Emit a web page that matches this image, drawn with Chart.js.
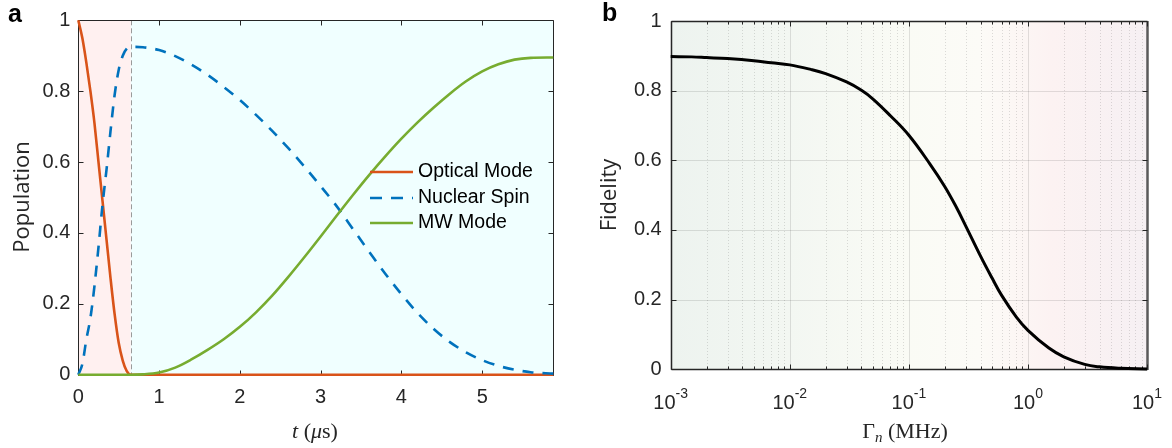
<!DOCTYPE html>
<html><head><meta charset="utf-8">
<script src="https://cdn.jsdelivr.net/npm/chart.js@4.4.1/dist/chart.umd.min.js"></script>
<style>
html,body{margin:0;padding:0;background:#fff}
body{width:1172px;height:448px;position:relative;overflow:hidden}
canvas{position:absolute;top:0}
#cA{left:0}
#cB{left:580px}
.txt{position:absolute;white-space:nowrap;color:#262626;line-height:1}
.panel{font:bold 25px "Liberation Sans",Arial,sans-serif;color:#000}
.ytitle{font:22px "Open Sans",sans-serif;transform:translate(-50%,-50%) rotate(-90deg)}
.xtitle{font:22px "Liberation Serif","DejaVu Serif",serif;transform:translate(-50%,-50%)}
.xtitle sub{font-size:15px;vertical-align:-4px}
.lrow{position:absolute;height:26px;line-height:26px;font:19.5px "Liberation Sans",Arial,sans-serif;color:#000;white-space:nowrap}
.lrow svg{position:absolute;left:0;top:0}
.lrow span{position:absolute;left:48px;top:0}
</style></head>
<body>
<canvas id="cA" width="580" height="448"></canvas>
<canvas id="cB" width="592" height="448"></canvas>
<div class="txt panel" style="left:8px;top:-1px">a</div>
<div class="txt panel" style="left:602px;top:-2px">b</div>
<div class="txt ytitle" style="left:20px;top:197px">Population</div>
<div class="txt ytitle" style="left:607px;top:195px">Fidelity</div>
<div class="txt xtitle" style="left:315px;top:431px"><i>t</i> (<i>μ</i>s)</div>
<div class="txt xtitle" style="left:905px;top:432px">Γ<sub><i>n</i></sub> (MHz)</div>
<div id="legend"></div>
<script>
// ---------------- data ----------------
const timeUs = [0,0.05,0.1,0.15,0.2,0.25,0.3,0.35,0.4,0.45,0.5,0.55,0.6,0.65,0.8,1.0,1.2,1.4,1.6,1.8,2.0,2.2,2.4,2.6,2.8,3.0,3.2,3.4,3.6,3.8,4.0,4.2,4.4,4.6,4.8,5.0,5.2,5.4,5.6,5.88];
const opticalMode = [1,0.95,0.88,0.80,0.71,0.60,0.49,0.38,0.27,0.17,0.09,0.04,0.01,0,
  0,0,0,0,0,0,0,0,0,0,0,0,0,0,0,0,0,0,0,0,0,0,0,0,0,0];
const nuclearSpin = [0,0.03,0.10,0.16,0.25,0.36,0.48,0.58,0.69,0.79,0.86,0.90,0.92,0.925,
  0.924,0.916,0.899,0.875,0.846,0.812,0.775,0.733,0.688,0.639,0.587,0.532,0.475,0.411,0.347,0.285,0.227,0.174,0.129,0.092,0.063,0.041,0.025,0.014,0.007,0.003];
const mwMode = [0,0,0,0,0,0,0,0,0,0,0,0,0,0,
  0.001,0.006,0.020,0.043,0.070,0.100,0.135,0.176,0.223,0.276,0.332,0.390,0.449,0.507,0.563,0.616,0.666,0.712,0.754,0.793,0.828,0.856,0.876,0.889,0.894,0.895];
const seriesNames = ['Optical Mode','Nuclear Spin','MW Mode'];
const pumpEndUs = 0.65;
const xTicksA = [0,1,2,3,4,5];
const xMaxA = 5.88;
const yTicks = [0,0.2,0.4,0.6,0.8,1];

const gammaMHz = [0.001,0.0015,0.002,0.003,0.005,0.007,0.01,0.015,0.02,0.03,0.04,0.05,0.07,0.1,0.15,0.2,0.25,0.3,0.4,0.5,0.6,0.8,1,1.5,2,3,4,6,10];
const fidelity = [0.898,0.897,0.895,0.892,0.886,0.880,0.874,0.861,0.849,0.825,0.801,0.776,0.728,0.672,0.590,0.525,0.466,0.412,0.325,0.262,0.213,0.150,0.112,0.061,0.036,0.014,0.007,0.003,0.001];
const xDecadesB = [-3,-2,-1,0,1];

// ---------------- styles ----------------
const COLORS = ['#D95319','#0072BD','#77AC30'];
const FONT = '"Liberation Sans", Arial, sans-serif';
const TXT = '#262626';
const pts = (xs, ys) => xs.map((x, i) => ({x, y: ys[i]}));

// legend (HTML text)
(function(){
  const lg = document.getElementById('legend');
  const rowsY = [172, 197.5, 223];
  seriesNames.forEach((name, i) => {
    const r = document.createElement('div');
    r.className = 'lrow';
    r.style.left = '370px';
    r.style.top = (rowsY[i] - 13) + 'px';
    const dash = i === 1 ? ' stroke-dasharray="12 9"' : '';
    r.innerHTML = '<svg width="46" height="26"><line x1="0" y1="13" x2="43" y2="13" stroke="' + COLORS[i] + '" stroke-width="2.6"' + dash + '/></svg><span>' + name + '</span>';
    lg.appendChild(r);
  });
})();

function crisp(v){ return Math.round(v) + 0.5; }

// ---------------- panel a ----------------
const panelAPlugin = {
  id: 'panelA',
  beforeDraw(chart){
    const {ctx, chartArea: a, scales: {x}} = chart;
    const xp = x.getPixelForValue(pumpEndUs);
    ctx.save();
    ctx.fillStyle = '#fff0f0';
    ctx.fillRect(a.left, a.top, xp - a.left, a.bottom - a.top);
    ctx.fillStyle = '#f0ffff';
    ctx.fillRect(xp, a.top, a.right - xp, a.bottom - a.top);
    ctx.restore();
  },
  beforeDatasetsDraw(chart){
    const {ctx, chartArea: a, scales: {x, y}} = chart;
    ctx.save();
    const xp = crisp(x.getPixelForValue(pumpEndUs));
    ctx.strokeStyle = '#9a9a9a'; ctx.lineWidth = 1; ctx.setLineDash([5,3]);
    ctx.beginPath(); ctx.moveTo(xp, a.top); ctx.lineTo(xp, a.bottom); ctx.stroke();
    ctx.setLineDash([]);
    const L = crisp(a.left), R = crisp(a.right), T = crisp(a.top), B = crisp(a.bottom);
    ctx.strokeStyle = TXT; ctx.lineWidth = 1;
    ctx.beginPath();
    ctx.moveTo(L, T); ctx.lineTo(R, T); ctx.lineTo(R, B); ctx.lineTo(L, B); ctx.closePath();
    ctx.stroke();
    ctx.beginPath();
    xTicksA.forEach(v => {
      const px = crisp(x.getPixelForValue(v));
      ctx.moveTo(px, T); ctx.lineTo(px, T + 5);
      ctx.moveTo(px, B); ctx.lineTo(px, B - 5);
    });
    yTicks.forEach(v => {
      const py = crisp(y.getPixelForValue(v));
      ctx.moveTo(L, py); ctx.lineTo(L + 5, py);
      ctx.moveTo(R, py); ctx.lineTo(R - 5, py);
    });
    ctx.stroke();
    ctx.restore();
  }
};

new Chart(document.getElementById('cA'), {
  type: 'line',
  data: { datasets: [
    {label: seriesNames[0], data: pts(timeUs, opticalMode), borderColor: COLORS[0], borderWidth: 2.6, order: 2, clip: 4},
    {label: seriesNames[1], data: pts(timeUs, nuclearSpin), borderColor: COLORS[1], borderWidth: 2.6, borderDash: [11, 9], order: 1, clip: 4},
    {label: seriesNames[2], data: pts(timeUs, mwMode), borderColor: COLORS[2], borderWidth: 2.6, order: 0, clip: 4}
  ]},
  options: {
    responsive: false, animation: false, devicePixelRatio: 1,
    layout: {padding: {left: 0, top: 20.3, right: 26.7, bottom: 0}},
    elements: {point: {radius: 0}, line: {cubicInterpolationMode: 'monotone', fill: false, borderCapStyle: 'butt'}},
    plugins: {legend: {display: false}, tooltip: {enabled: false}},
    scales: {
      x: {type: 'linear', min: 0, max: xMaxA,
        grid: {display: false, drawTicks: false}, border: {display: false},
        afterBuildTicks: s => { s.ticks = xTicksA.map(v => ({value: v})); },
        afterFit: s => { s.height = 448 - 374.7; },
        ticks: {font: {family: FONT, size: 20}, color: TXT, padding: 11, maxRotation: 0, autoSkip: false,
          callback: v => String(v)}},
      y: {type: 'linear', min: 0, max: 1,
        grid: {display: false, drawTicks: false}, border: {display: false},
        afterBuildTicks: s => { s.ticks = yTicks.map(v => ({value: v})); },
        afterFit: s => { s.width = 78.3; },
        ticks: {font: {family: FONT, size: 20}, color: TXT, padding: 8, autoSkip: false,
          callback: v => String(v)}}
    }
  },
  plugins: [panelAPlugin]
});

// ---------------- panel b ----------------
const panelBPlugin = {
  id: 'panelB',
  beforeDraw(chart){
    const {ctx, chartArea: a} = chart;
    const g = ctx.createLinearGradient(a.left, 0, a.right, 0);
    g.addColorStop(0.00, 'rgb(237,243,239)');
    g.addColorStop(0.25, 'rgb(243,247,242)');
    g.addColorStop(0.50, 'rgb(250,251,245)');
    g.addColorStop(0.65, 'rgb(252,251,247)');
    g.addColorStop(0.80, 'rgb(252,242,242)');
    g.addColorStop(1.00, 'rgb(246,240,243)');
    ctx.save();
    ctx.fillStyle = g;
    ctx.fillRect(a.left, a.top, a.right - a.left, a.bottom - a.top);
    ctx.restore();
  },
  beforeDatasetsDraw(chart){
    const {ctx, chartArea: a, scales: {x, y}} = chart;
    const L = crisp(a.left), R = crisp(a.right), T = crisp(a.top), B = crisp(a.bottom);
    const majors = xDecadesB.map(d => Math.pow(10, d));
    const minors = [];
    xDecadesB.slice(0, -1).forEach(d => { for (let m = 2; m <= 9; m++) minors.push(m * Math.pow(10, d)); });
    ctx.save();
    ctx.strokeStyle = 'rgba(0,0,0,0.13)'; ctx.lineWidth = 1; ctx.setLineDash([1, 2]);
    ctx.beginPath();
    minors.forEach(v => { const px = crisp(x.getPixelForValue(v)); ctx.moveTo(px, a.top); ctx.lineTo(px, a.bottom); });
    ctx.stroke();
    ctx.setLineDash([]);
    ctx.strokeStyle = 'rgba(0,0,0,0.11)';
    ctx.beginPath();
    majors.forEach(v => { const px = crisp(x.getPixelForValue(v)); ctx.moveTo(px, a.top); ctx.lineTo(px, a.bottom); });
    yTicks.forEach(v => { const py = crisp(y.getPixelForValue(v)); ctx.moveTo(a.left, py); ctx.lineTo(a.right, py); });
    ctx.stroke();
    ctx.strokeStyle = '#262626'; ctx.lineWidth = 1.5;
    ctx.beginPath(); ctx.moveTo(L, T); ctx.lineTo(R, T); ctx.moveTo(L, B); ctx.lineTo(R, B); ctx.moveTo(L, T); ctx.lineTo(L, B); ctx.stroke();
    ctx.strokeStyle = '#5a5a5a'; ctx.lineWidth = 2.5;
    ctx.beginPath(); ctx.moveTo(R, T - 0.5); ctx.lineTo(R, B + 0.5); ctx.stroke();
    ctx.strokeStyle = '#262626'; ctx.lineWidth = 1;
    ctx.beginPath();
    majors.forEach(v => { const px = crisp(x.getPixelForValue(v)); ctx.moveTo(px, T); ctx.lineTo(px, T + 5); ctx.moveTo(px, B); ctx.lineTo(px, B - 5); });
    minors.forEach(v => { const px = crisp(x.getPixelForValue(v)); ctx.moveTo(px, T); ctx.lineTo(px, T + 3); ctx.moveTo(px, B); ctx.lineTo(px, B - 3); });
    yTicks.forEach(v => { const py = crisp(y.getPixelForValue(v)); ctx.moveTo(L, py); ctx.lineTo(L + 5, py); ctx.moveTo(R, py); ctx.lineTo(R - 5, py); });
    ctx.stroke();
    ctx.fillStyle = TXT; ctx.textBaseline = 'alphabetic'; ctx.textAlign = 'left';
    xDecadesB.forEach(d => {
      const px = x.getPixelForValue(Math.pow(10, d));
      const exp = String(d);
      ctx.font = '20px ' + FONT; const w1 = ctx.measureText('10').width;
      ctx.font = '14px ' + FONT; const w2 = ctx.measureText(exp).width;
      const x0 = px - (w1 + w2) / 2;
      ctx.font = '20px ' + FONT; ctx.fillText('10', x0, 409);
      ctx.font = '14px ' + FONT; ctx.fillText(exp, x0 + w1, 398);
    });
    ctx.restore();
  }
};

new Chart(document.getElementById('cB'), {
  type: 'line',
  data: { datasets: [
    {label: 'Fidelity', data: pts(gammaMHz, fidelity), borderColor: '#000000', borderWidth: 3, clip: 4,
     cubicInterpolationMode: 'default', tension: 0.4}
  ]},
  options: {
    responsive: false, animation: false, devicePixelRatio: 1,
    layout: {padding: {left: 0, top: 19.3, right: 25, bottom: 0}},
    elements: {point: {radius: 0}, line: {fill: false}},
    plugins: {legend: {display: false}, tooltip: {enabled: false}},
    scales: {
      x: {type: 'logarithmic', min: 1e-3, max: 10,
        grid: {display: false, drawTicks: false}, border: {display: false},
        afterFit: s => { s.height = 448 - 369.3; },
        ticks: {display: false}},
      y: {type: 'linear', min: 0, max: 1,
        grid: {display: false, drawTicks: false}, border: {display: false},
        afterBuildTicks: s => { s.ticks = yTicks.map(v => ({value: v})); },
        afterFit: s => { s.width = 90.7; },
        ticks: {font: {family: FONT, size: 20}, color: TXT, padding: 9, autoSkip: false,
          callback: v => String(v)}}
    }
  },
  plugins: [panelBPlugin]
});
</script>
</body></html>
